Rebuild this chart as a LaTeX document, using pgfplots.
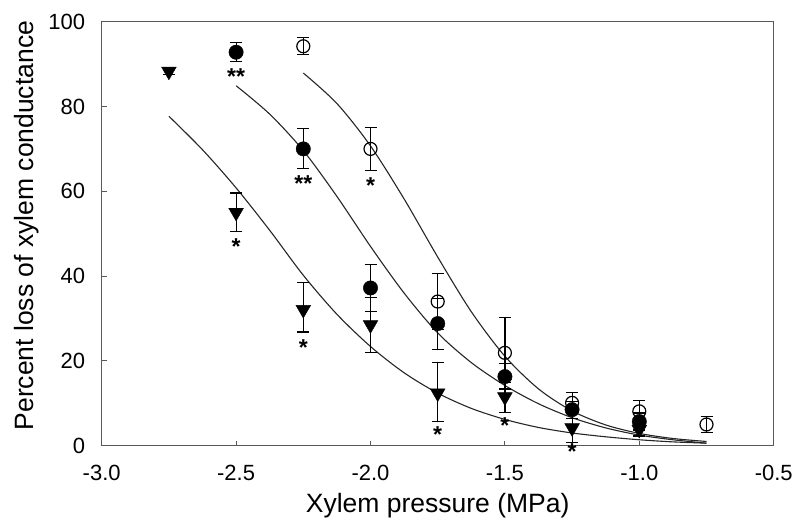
\documentclass[border=0pt]{standalone}
\usepackage{fontspec}
\setmainfont{Liberation Sans}
\usepackage{pgfplots}
\usepackage{pgfplotstable}
\pgfplotsset{compat=1.18}

% x  y  err+  err-
\pgfplotstableread{
x y ep em
-2.75 88.3 0.8 0.8
-2.5 55.0 4.6 4.5
-2.25 32.1 6.3 5.3
-2.0 28.5 6.5 6.6
-1.75 12.4 7.3 6.7
-1.5 11.5 3.5 3.6
-1.25 4.2 3.5 3.5
-1.0 3.8 1.5 1.5
}\tri
\pgfplotstableread{
x y ep em
-2.5 92.8 2.2 2.2
-2.25 70.0 4.8 4.7
-2.0 37.2 5.6 5.6
-1.75 28.8 6.0 6.2
-1.5 16.3 3.0 3.0
-1.25 8.5 2.0 2.0
-1.0 5.7 2.0 2.0
}\fcirc
\pgfplotstableread{
x y ep em
-2.25 94.2 2.0 2.0
-2.0 70.0 5.1 5.1
-1.75 34.0 6.6 6.6
-1.5 21.9 8.4 8.4
-1.25 10.1 2.4 2.4
-1.0 8.1 2.6 2.6
-0.75 5.0 1.8 1.8
}\ocirc
% fitted curves
\pgfplotstableread{
x y
-2.75 77.7
-2.625 69.8
-2.5 60.8
-2.375 50.8
-2.25 40.2
-2.125 31.0
-2.0 23.4
-1.875 17.2
-1.75 12.4
-1.625 8.8
-1.5 6.2
-1.375 4.3
-1.25 3.0
-1.125 2.1
-1.0 1.4
-0.875 0.9
-0.75 0.6
}\tricurve
\pgfplotstableread{
x y
-2.5 84.9
-2.375 78.2
-2.25 69.6
-2.125 58.8
-2.0 47.0
-1.875 36.0
-1.75 26.6
-1.625 19.6
-1.5 14.2
-1.375 9.9
-1.25 6.6
-1.125 4.2
-1.0 2.5
-0.875 1.4
-0.75 0.6
}\fcurve
\pgfplotstableread{
x y
-2.25 87.9
-2.125 80.7
-2.0 70.7
-1.875 58.2
-1.75 44.5
-1.625 31.6
-1.5 21.1
-1.375 13.4
-1.25 8.2
-1.125 4.9
-1.0 2.9
-0.875 1.7
-0.75 1.0
}\ocurve

\begin{document}
\begin{tikzpicture}
\begin{axis}[
  scale only axis,
  width=672bp, height=424bp,
  xmin=-3, xmax=-0.5, ymin=0, ymax=100,
  xtick={-3,-2.5,-2,-1.5,-1,-0.5},
  ytick={0,20,40,60,80,100},
  tick pos=left,
  tick align=inside,
  major tick length=5bp,
  axis line style={draw=black!65, line width=1.3bp},
  every tick/.style={draw=black!65, line width=1bp},
  /pgf/number format/assume math mode=true,
  x tick label style={/pgf/number format/fixed, /pgf/number format/fixed zerofill, /pgf/number format/precision=1, anchor=base, inner sep=0pt, yshift=-35bp},
  y tick label style={anchor=east, inner sep=0pt, xshift=-16.5bp},
  tick label style={font=\fontsize{22bp}{26bp}\selectfont},
  label style={font=\fontsize{26.5bp}{30bp}\selectfont},
  xlabel={Xylem pressure (MPa)},
  ylabel={Percent loss of xylem conductance},
  xlabel style={at={(axis description cs:0.5,-0.158)}, anchor=base},
  ylabel style={at={(axis description cs:-0.102,0.519)}, anchor=base},
  clip=false,
  error bars/error bar style={black, line width=1.2bp},
  error bars/error mark options={rotate=90, mark size=6bp, line width=1.2bp, black},
]
% curves
\addplot[black!85, line width=1.1bp, smooth, no marks] table[x=x,y=y] {\tricurve};
\addplot[black!85, line width=1.1bp, smooth, no marks] table[x=x,y=y] {\fcurve};
\addplot[black!85, line width=1.1bp, smooth, no marks] table[x=x,y=y] {\ocurve};
% data
\addplot[only marks, mark=*, mark size=7.2bp, black,
  error bars/.cd, y dir=both, y explicit]
  table[x=x, y=y, y error plus=ep, y error minus=em] {\fcirc};
\addplot[only marks, mark=o, mark size=6.5bp, black,
  mark options={fill=white, line width=1.2bp},
  error bars/.cd, y dir=both, y explicit]
  table[x=x, y=y, y error plus=ep, y error minus=em] {\ocirc};
\addplot[only marks, mark=triangle*, mark size=8.5bp, black,
  mark options={rotate=180},
  error bars/.cd, y dir=both, y explicit]
  table[x=x, y=y, y error plus=ep, y error minus=em] {\tri};
% significance marks
\tikzset{sig/.style={font=\fontsize{23bp}{23bp}\selectfont\bfseries, anchor=base, inner sep=0pt, yshift=-13.2bp}}
\node[sig] at (axis cs:-2.5,88.2) {**};
\node[sig] at (axis cs:-2.25,63.1) {**};
\node[sig] at (axis cs:-2.0,62.7) {*};
\node[sig] at (axis cs:-2.5,48.3) {*};
\node[sig] at (axis cs:-2.25,24.5) {*};
\node[sig] at (axis cs:-1.75,3.8) {*};
\node[sig] at (axis cs:-1.5,6.1) {*};
\node[sig] at (axis cs:-1.25,-0.2) {*};
\end{axis}
\pgfresetboundingbox
\path (-101.7bp,-83.3bp) rectangle (695.3bp,445.7bp);
\end{tikzpicture}
\end{document}
